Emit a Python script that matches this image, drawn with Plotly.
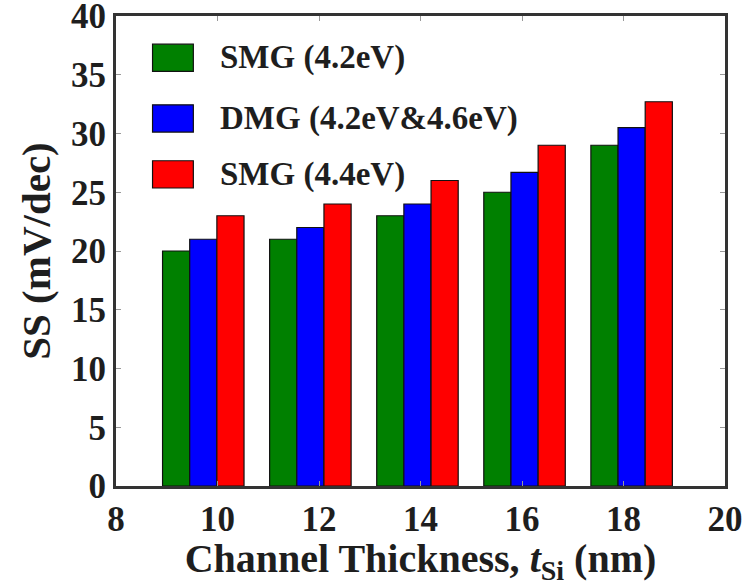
import plotly.graph_objects as go

# Subthreshold swing vs. silicon channel thickness
bar_centres = [9.72, 11.83, 13.94, 16.05, 18.16]   # x position of each bar group
smg_42 = [20, 21, 23, 25, 29]
dmg_42_46 = [21, 22, 24, 26.7, 30.5]
smg_44 = [23, 24, 26, 29, 32.7]

series_names = ["SMG (4.2eV)", "DMG (4.2eV&4.6eV)", "SMG (4.4eV)"]
series_values = [smg_42, dmg_42_46, smg_44]
series_colors = ["#008000", "#0000ff", "#ff0000"]

x_ticks = [8, 10, 12, 14, 16, 18, 20]
y_ticks = [0, 5, 10, 15, 20, 25, 30, 35, 40]

FONT = "Liberation Serif"
TXT = "#1e1e1e"

fig = go.Figure()
for name, vals, col in zip(series_names, series_values, series_colors):
    fig.add_trace(go.Bar(
        x=bar_centres, y=vals, name=name,
        marker=dict(color=col, line=dict(color="#111111", width=1.2)),
        showlegend=False,
    ))

# legend drawn as large swatches with bold labels
legend_rows = [0.911, 0.782, 0.663]
for name, col, yc in zip(series_names, series_colors, legend_rows):
    fig.add_shape(type="rect", xref="paper", yref="paper",
                  x0=0.060, x1=0.127, y0=yc - 0.029, y1=yc + 0.029,
                  fillcolor=col, line=dict(color="#111111", width=1.2))
    fig.add_annotation(xref="paper", yref="paper", x=0.167, y=yc,
                       xanchor="left", yanchor="middle", showarrow=False,
                       text=f"<b>{name}</b>",
                       font=dict(family=FONT, size=33, color=TXT))

axis_common = dict(
    showline=True, linecolor="#333333", linewidth=3, mirror="ticks",
    ticks="inside", ticklen=5, tickwidth=1, tickcolor="#999999",
    showgrid=False, zeroline=False, ticklabeloverflow="allow", automargin=False,
    tickfont=dict(family=FONT, size=35, color=TXT),
)

fig.update_layout(
    width=749, height=586,
    margin=dict(l=116, r=24, t=16, b=100),
    paper_bgcolor="white", plot_bgcolor="white",
    font=dict(family=FONT),
    barmode="group", bargap=0.239, bargroupgap=0,
    xaxis=dict(range=[8, 20], tickvals=x_ticks,
               ticktext=[f"<b>{v}</b>" for v in x_ticks],
               title=dict(text="<b>Channel Thickness, <i>t</i><sub>Si</sub> (nm)</b>",
                          font=dict(family=FONT, size=40, color=TXT), standoff=9),
               **axis_common),
    yaxis=dict(range=[0, 40], tickvals=y_ticks,
               ticktext=[f"<b>{v}</b>" for v in y_ticks],
               title=dict(text="<b>SS (mV/dec)</b>",
                          font=dict(family=FONT, size=41, color=TXT), standoff=8),
               **axis_common),
)

fig.write_html("out.html")
